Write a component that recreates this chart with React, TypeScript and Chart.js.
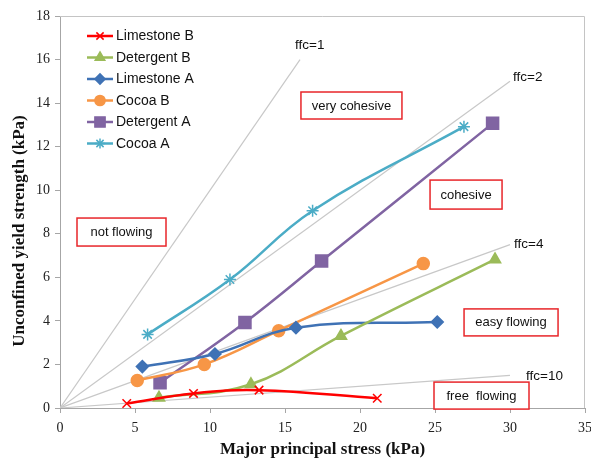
import React, { useEffect, useRef } from 'react';
import { Chart, registerables } from 'chart.js';
import { drawPoint } from 'chart.js/helpers';

Chart.register(...registerables);

// ---- data ----
const seriesNames = ['Limestone B', 'Detergent B', 'Limestone A', 'Cocoa B', 'Detergent A', 'Cocoa A'];
const seriesColors = ['#ff0000', '#9bbb59', '#3f72b5', '#f79646', '#8064a2', '#4bacc6'];
const seriesMarkers = ['crossRot', 'triangle', 'rectRot', 'circle', 'rect', 'star'];
const seriesRadius = [6, 6.5, 6, 6, 8.5, 6];

const limestoneBX = [4.45, 8.9, 13.27, 21.15];
const limestoneBY = [0.21, 0.67, 0.82, 0.45];
const detergentBX = [6.6, 12.73, 18.73, 29.0];
const detergentBY = [0.47, 1.09, 3.31, 6.82];
const limestoneAX = [5.49, 10.33, 15.73, 25.15];
const limestoneAY = [1.9, 2.48, 3.69, 3.95];
const cocoaBX = [5.15, 9.62, 14.58, 24.22];
const cocoaBY = [1.26, 2.0, 3.55, 6.63];
const detergentAX = [6.67, 12.33, 17.44, 28.84];
const detergentAY = [1.16, 3.93, 6.75, 13.07];
const cocoaAX = [5.84, 11.33, 16.84, 26.93];
const cocoaAY = [3.38, 5.9, 9.06, 12.92];

const seriesX = [limestoneBX, detergentBX, limestoneAX, cocoaBX, detergentAX, cocoaAX];
const seriesY = [limestoneBY, detergentBY, limestoneAY, cocoaBY, detergentAY, cocoaAY];

// flow function lines (ffc): end points
const ffcLabels = ['ffc=1', 'ffc=2', 'ffc=4', 'ffc=10'];
const ffcEndX = [16, 30, 30, 30];
const ffcEndY = [16, 15, 7.5, 1.5];
const ffcLabelX = [15.67, 30.2, 30.27, 31.07];
const ffcLabelY = [16.67, 15.2, 7.53, 1.47];

// region labels (centre in data units)
const regionLabels = ['very cohesive', 'cohesive', 'not flowing', 'easy flowing', 'free  flowing'];
const regionX = [19.43, 27.07, 4.1, 30.07, 28.1];
const regionY = [13.89, 9.8, 8.08, 3.93, 0.57];
const regionW = [101, 72, 89, 94, 95];
const regionH = [27, 29, 28, 27, 27];

const xTitle = 'Major principal stress (kPa)';
const yTitle = 'Unconfined yield strength (kPa)';
const X_MIN = 0, X_MAX = 35, X_STEP = 5;
const Y_MIN = 0, Y_MAX = 18, Y_STEP = 2;

const SANS = '"Liberation Sans", Arial, sans-serif';
const SERIF = '"Liberation Serif", "Times New Roman", serif';

const overlayPlugin = {
  id: 'overlay',
  beforeDatasetsDraw(chart: any) {
    const { ctx, chartArea } = chart;
    ctx.save();
    ctx.strokeStyle = '#c4c4c4';
    ctx.lineWidth = 1;
    ctx.beginPath();
    ctx.moveTo(chartArea.left, chartArea.top + 0.5);
    ctx.lineTo(chartArea.right - 0.5, chartArea.top + 0.5);
    ctx.lineTo(chartArea.right - 0.5, chartArea.bottom);
    ctx.stroke();
    ctx.restore();
  },
  afterDraw(chart: any) {
    const { ctx, chartArea } = chart;
    const xs = chart.scales.x;
    const ys = chart.scales.y;
    ctx.save();
    // x tick labels (drawn here so the last label may overhang the edge)
    ctx.fillStyle = '#222';
    ctx.font = `14px ${SERIF}`;
    ctx.textAlign = 'center';
    ctx.textBaseline = 'middle';
    xs.ticks.forEach((t: any) => {
      ctx.fillText(String(t.value), xs.getPixelForValue(t.value), chartArea.bottom + 20);
    });
    // ffc labels
    ctx.fillStyle = '#111';
    ctx.font = `13.5px ${SANS}`;
    ctx.textAlign = 'left';
    ffcLabels.forEach((t, i) => {
      ctx.fillText(t, xs.getPixelForValue(ffcLabelX[i]), ys.getPixelForValue(ffcLabelY[i]));
    });
    // region boxes
    ctx.font = `13px ${SANS}`;
    regionLabels.forEach((t, i) => {
      const cx = xs.getPixelForValue(regionX[i]);
      const cy = ys.getPixelForValue(regionY[i]);
      const w = regionW[i], h = regionH[i];
      ctx.fillStyle = '#ffffff';
      ctx.fillRect(cx - w / 2, cy - h / 2, w, h);
      ctx.strokeStyle = '#e8262a';
      ctx.lineWidth = 1.5;
      ctx.strokeRect(cx - w / 2, cy - h / 2, w, h);
      ctx.fillStyle = '#111';
      ctx.textAlign = 'center';
      ctx.fillText(t, cx, cy + 0.5);
    });
    // legend
    ctx.font = `14px ${SANS}`;
    ctx.textAlign = 'left';
    seriesNames.forEach((name, i) => {
      const y = chartArea.top + 20 + i * 21.5;
      const x0 = chartArea.left + 27;
      ctx.strokeStyle = seriesColors[i];
      ctx.lineWidth = 2.5;
      ctx.beginPath();
      ctx.moveTo(x0, y);
      ctx.lineTo(x0 + 26, y);
      ctx.stroke();
      ctx.fillStyle = seriesColors[i];
      ctx.lineWidth = 1.5;
      drawPoint(ctx, { pointStyle: seriesMarkers[i], radius: seriesRadius[i] * 0.85, rotation: 0, borderWidth: 1.5 } as any, x0 + 13, y);
      ctx.fillStyle = '#111';
      ctx.fillText(name, x0 + 29, y + 0.5);
    });
    // axis titles
    ctx.fillStyle = '#111';
    ctx.font = `bold 17px ${SERIF}`;
    ctx.textAlign = 'center';
    ctx.textBaseline = 'middle';
    ctx.fillText(xTitle, (chartArea.left + chartArea.right) / 2, 450);
    ctx.translate(20, 231);
    ctx.rotate(-Math.PI / 2);
    ctx.fillText(yTitle, 0, 0);
    ctx.restore();
  },
};

export default function App() {
  const ref = useRef<HTMLCanvasElement>(null);
  useEffect(() => {
    if (!ref.current) return;
    const dataSets: any[] = seriesNames.map((name, i) => ({
      label: name,
      data: seriesX[i].map((x, j) => ({ x, y: seriesY[i][j] })),
      showLine: true,
      borderColor: seriesColors[i],
      backgroundColor: seriesColors[i],
      borderWidth: 2.5,
      tension: 0.4,
      pointStyle: seriesMarkers[i],
      pointRadius: seriesRadius[i],
      pointBorderWidth: 1.5,
      pointBorderColor: seriesColors[i],
      pointBackgroundColor: seriesColors[i],
      clip: false,
    }));
    ffcLabels.forEach((name, i) => {
      dataSets.push({
        label: name,
        data: [{ x: 0, y: 0 }, { x: ffcEndX[i], y: ffcEndY[i] }],
        showLine: true,
        borderColor: '#c8c8c8',
        borderWidth: 1.2,
        pointRadius: 0,
        tension: 0,
      });
    });
    const axisColor = '#a6a6a6';
    const chart = new Chart(ref.current, {
      type: 'scatter',
      data: { datasets: dataSets },
      plugins: [overlayPlugin],
      options: {
        animation: false,
        responsive: false,
        layout: { autoPadding: false, padding: { top: 16, right: 6, left: 0, bottom: 0 } },
        plugins: { legend: { display: false }, tooltip: { enabled: false } },
        scales: {
          x: {
            type: 'linear',
            min: X_MIN,
            max: X_MAX,
            ticks: { stepSize: X_STEP, display: false },
            grid: { display: true, drawOnChartArea: false, drawTicks: true, tickLength: 5, color: axisColor },
            border: { display: true, color: axisColor, width: 1 },
            afterFit(s: any) { s.height = 53; s.paddingLeft = 0; s.paddingRight = 0; },
          },
          y: {
            type: 'linear',
            min: Y_MIN,
            max: Y_MAX,
            ticks: { stepSize: Y_STEP, font: { family: SERIF, size: 14 }, color: '#222', padding: 5 },
            grid: { display: true, drawOnChartArea: false, drawTicks: true, tickLength: 5, color: axisColor },
            border: { display: true, color: axisColor, width: 1 },
            afterFit(s: any) { s.width = 60; s.paddingTop = 0; s.paddingBottom = 0; },
          },
        },
      } as any,
    });
    return () => chart.destroy();
  }, []);
  return (
    <div style={{ position: 'fixed', left: 0, top: 0, width: 591, height: 461, background: '#fff' }}>
      <canvas ref={ref} width={591} height={461} style={{ display: 'block' }} />
    </div>
  );
}
